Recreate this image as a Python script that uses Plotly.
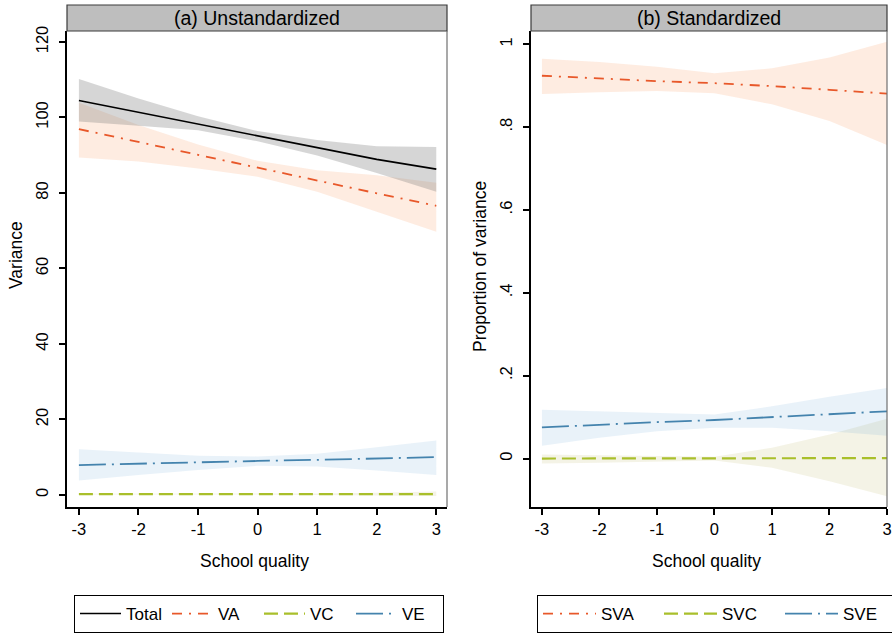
import plotly.graph_objects as go

# ---------------- data ----------------
school_quality = [-3, -2, -1, 0, 1, 2, 3]

total = [104.5, 101.4, 98.3, 95.0, 91.9, 88.9, 86.3]
total_hi = [110.2, 105.0, 100.3, 96.4, 94.0, 92.4, 92.2]
total_lo = [98.9, 97.8, 96.6, 93.7, 89.9, 85.3, 80.3]

va = [96.9, 93.5, 90.1, 86.6, 83.3, 79.9, 76.6]
va_hi = [103.9, 98.0, 92.8, 88.5, 86.0, 84.7, 82.7]
va_lo = [89.4, 88.3, 86.5, 84.3, 80.3, 75.0, 69.7]

vc = [0.2, 0.2, 0.2, 0.2, 0.2, 0.2, 0.2]
vc_hi = [0.3, 0.3, 0.3, 0.3, 0.4, 0.6, 0.9]
vc_lo = [0.1, 0.1, 0.1, 0.1, 0.05, -0.1, -0.3]

ve = [7.9, 8.3, 8.6, 9.0, 9.3, 9.7, 10.0]
ve_hi = [12.1, 11.2, 10.4, 10.2, 10.9, 12.6, 14.4]
ve_lo = [3.8, 5.3, 6.6, 7.7, 7.5, 6.5, 5.3]

sva = [0.924, 0.917, 0.911, 0.906, 0.899, 0.890, 0.881]
sva_hi = [0.965, 0.957, 0.946, 0.930, 0.942, 0.968, 1.006]
sva_lo = [0.880, 0.884, 0.887, 0.882, 0.855, 0.815, 0.757]

svc = [0.0, 0.0, 0.0, 0.0, 0.0, 0.001, 0.001]
svc_hi = [0.010, 0.008, 0.006, 0.004, 0.026, 0.058, 0.096]
svc_lo = [-0.012, -0.010, -0.008, -0.005, -0.022, -0.055, -0.091]

sve = [0.075, 0.082, 0.088, 0.093, 0.100, 0.107, 0.114]
sve_hi = [0.118, 0.114, 0.109, 0.106, 0.126, 0.149, 0.170]
sve_lo = [0.031, 0.050, 0.066, 0.074, 0.074, 0.066, 0.055]

x_ticks = [-3, -2, -1, 0, 1, 2, 3]
x_ticklabels = ["-3", "-2", "-1", "0", "1", "2", "3"]
y1_ticks = [0, 20, 40, 60, 80, 100, 120]
y2_ticks = [0, 0.2, 0.4, 0.6, 0.8, 1.0]
y2_ticklabels = ["0", ".2", ".4", ".6", ".8", "1"]

panel_titles = ["(a) Unstandardized", "(b) Standardized"]

# ---------------- styles ----------------
FONT = "Liberation Sans, Arial, sans-serif"
C_TOT = "black"
C_A = "#e8582a"
C_C = "#a9bf2b"
C_E = "#4483ad"
F_TOT = "rgba(120,120,120,0.30)"
F_A = "rgba(250,180,140,0.26)"
F_C = "rgba(170,160,60,0.13)"
F_E = "rgba(100,160,210,0.14)"
DASH_A = "10px,7px,2px,7px"
DASH_C = "14px,6px"
DASH_E = "27px,6px,2px,6px"

W, H = 892, 635


def px_x(p):
    return p / W


def px_y(p):
    return 1 - p / H


L1, R1 = 67, 447
L2, R2 = 531, 887
TOP, BOT = 31, 507
HEAD_TOP = 5

fig = go.Figure()


def band(x, lo, hi, color, xa, ya):
    fig.add_trace(go.Scatter(
        x=list(x) + list(x)[::-1], y=list(hi) + list(lo)[::-1],
        fill="toself", fillcolor=color, line=dict(width=0),
        mode="lines", showlegend=False, hoverinfo="skip",
        xaxis=xa, yaxis=ya))


def line(x, y, color, dash, name, xa, ya, leg, width=1.8):
    fig.add_trace(go.Scatter(
        x=x, y=y, mode="lines", name=name,
        line=dict(color=color, dash=dash, width=width),
        xaxis=xa, yaxis=ya, legend=leg))


# left panel
band(school_quality, va_lo, va_hi, F_A, "x", "y")
band(school_quality, total_lo, total_hi, F_TOT, "x", "y")
band(school_quality, vc_lo, vc_hi, F_C, "x", "y")
band(school_quality, ve_lo, ve_hi, F_E, "x", "y")
line(school_quality, total, C_TOT, "solid", "Total", "x", "y", "legend", 1.6)
line(school_quality, va, C_A, DASH_A, "VA", "x", "y", "legend")
line(school_quality, vc, C_C, DASH_C, "VC", "x", "y", "legend", 2.2)
line(school_quality, ve, C_E, DASH_E, "VE", "x", "y", "legend")

# right panel
band(school_quality, sva_lo, sva_hi, F_A, "x2", "y2")
band(school_quality, svc_lo, svc_hi, F_C, "x2", "y2")
band(school_quality, sve_lo, sve_hi, F_E, "x2", "y2")
line(school_quality, sva, C_A, DASH_A, "SVA", "x2", "y2", "legend2")
line(school_quality, svc, C_C, DASH_C, "SVC", "x2", "y2", "legend2", 2.2)
line(school_quality, sve, C_E, DASH_E, "SVE", "x2", "y2", "legend2")

tickfont = dict(family=FONT, size=16.5, color="black")
common_x = dict(
    tickvals=x_ticks, ticktext=x_ticklabels, ticks="outside", ticklen=6, tickwidth=1.5,
    tickcolor="black", showline=True, linecolor="black", linewidth=2, showgrid=False,
    zeroline=False, tickfont=tickfont, ticklabelstandoff=0, automargin=False)
common_y = dict(
    ticks="outside", ticklen=6, tickwidth=1.5, tickcolor="black", tickangle=-90,
    showline=True, linecolor="black", linewidth=2, showgrid=False, zeroline=False,
    tickfont=tickfont, ticklabelstandoff=4, automargin=False)

shapes = []
annotations = []
for (l, r, title) in [(L1, R1, panel_titles[0]), (L2, R2, panel_titles[1])]:
    shapes.append(dict(type="rect", xref="paper", yref="paper",
                       x0=px_x(l), x1=px_x(r), y0=px_y(TOP), y1=px_y(HEAD_TOP),
                       fillcolor="#bebebe", line=dict(color="#3a3a3a", width=1.2)))
    shapes.append(dict(type="line", xref="paper", yref="paper",
                       x0=px_x(r), x1=px_x(r), y0=px_y(BOT), y1=px_y(TOP),
                       line=dict(color="#707070", width=1.2)))
    annotations.append(dict(text=title, xref="paper", yref="paper",
                            x=px_x((l + r) / 2), y=px_y(18), showarrow=False,
                            xanchor="center", yanchor="middle",
                            font=dict(family=FONT, size=19.5, color="black")))
    annotations.append(dict(text="School quality", xref="paper", yref="paper",
                            x=px_x((l + r) / 2 - 3), y=px_y(561), showarrow=False,
                            xanchor="center", yanchor="middle",
                            font=dict(family=FONT, size=17.5, color="black")))

annotations.append(dict(text="Variance", xref="paper", yref="paper",
                        x=px_x(16), y=px_y(255), showarrow=False, textangle=-90,
                        xanchor="center", yanchor="middle",
                        font=dict(family=FONT, size=17.5, color="black")))
annotations.append(dict(text="Proportion of variance", xref="paper", yref="paper",
                        x=px_x(480), y=px_y(267), showarrow=False, textangle=-90,
                        xanchor="center", yanchor="middle",
                        font=dict(family=FONT, size=17.5, color="black")))

legend_style = dict(orientation="h", bordercolor="black", borderwidth=1,
                    bgcolor="white", font=dict(family=FONT, size=17, color="black"),
                    xanchor="left", yanchor="bottom", tracegroupgap=0)

fig.update_layout(
    width=W, height=H,
    margin=dict(l=0, r=0, t=0, b=0, autoexpand=False),
    paper_bgcolor="white", plot_bgcolor="white",
    showlegend=True,
    xaxis=dict(domain=[px_x(L1), px_x(R1)], range=[-3.2, 3.18], anchor="y", **common_x),
    yaxis=dict(domain=[px_y(BOT), px_y(TOP)], range=[-3.2, 122.9], anchor="x",
               tickvals=y1_ticks, **common_y),
    xaxis2=dict(domain=[px_x(L2), px_x(R2)], range=[-3.19, 3.0], anchor="y2", **common_x),
    yaxis2=dict(domain=[px_y(BOT), px_y(TOP)], range=[-0.117, 1.032], anchor="x2",
                tickvals=y2_ticks, ticktext=y2_ticklabels, **common_y),
    legend=dict(x=px_x(74), y=px_y(633), itemwidth=41, entrywidth=36, **legend_style),
    legend2=dict(x=px_x(537), y=px_y(633), itemwidth=53, entrywidth=53, **legend_style),
    shapes=shapes,
    annotations=annotations,
)

fig.write_html("out.html")
